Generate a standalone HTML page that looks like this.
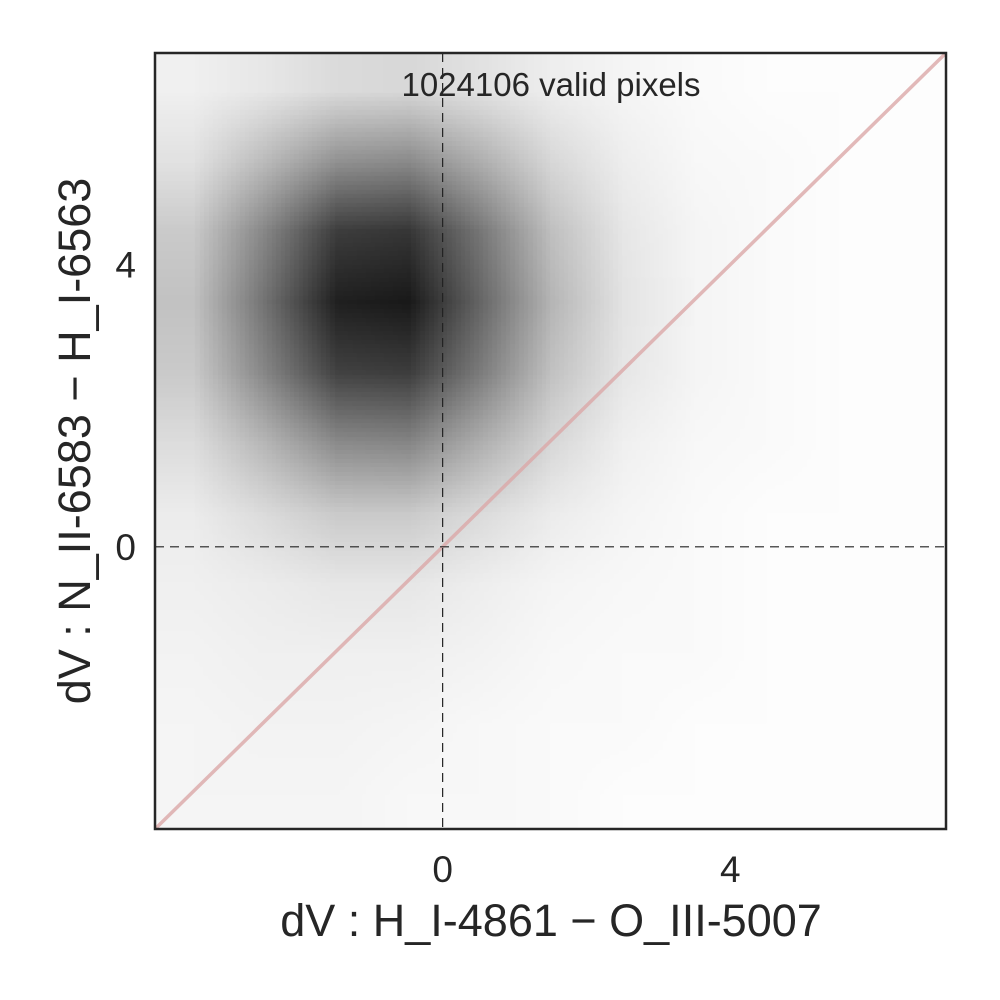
<!DOCTYPE html>
<html><head><meta charset="utf-8"><style>
html,body{margin:0;padding:0;background:#fff;width:1000px;height:1000px;overflow:hidden}
#wrap{position:relative;width:1000px;height:1000px}
canvas,svg{position:absolute;left:0;top:0}
text{font-family:"Liberation Sans",sans-serif;fill:#262626}
</style></head><body>
<div id="wrap">
<canvas id="hm" width="1000" height="1000"></canvas>
<svg id="ov" width="1000" height="1000"></svg>
</div>
<script>
// bin centers (data units)
const xCenters=[-3.5,-2.5,-1.5,-0.5,0.5,1.5,2.5,3.5,4.5,5.5,6.5];
const yCenters=[6.5,5.5,4.5,3.5,2.5,1.5,0.5,-0.5,-1.5,-2.5,-3.5];
// normalized density per row (top to bottom)
const row0=[.06,.1,.15,.16,.12,.07,.04,.02,.01,.01,.01];
const row1=[.12,.28,.45,.48,.33,.16,.07,.03,.02,.01,.01];
const row2=[.22,.5,.8,.83,.56,.26,.1,.04,.02,.01,.01];
const row3=[.25,.58,.92,.95,.63,.3,.11,.04,.02,.01,.01];
const row4=[.22,.5,.78,.8,.54,.25,.1,.04,.02,.01,.01];
const row5=[.14,.3,.48,.5,.33,.16,.06,.03,.02,.01,.01];
const row6=[.08,.15,.22,.22,.15,.08,.04,.02,.01,.01,.01];
const row7=[.06,.08,.1,.1,.07,.04,.03,.02,.01,.01,.01];
const row8=[.05,.06,.06,.06,.05,.03,.02,.02,.01,.01,.01];
const row9=[.04,.05,.05,.04,.03,.02,.02,.01,.01,.01,.01];
const row10=[.04,.04,.04,.03,.03,.02,.01,.01,.01,.01,.01];
const density=[row0,row1,row2,row3,row4,row5,row6,row7,row8,row9,row10];
const xTicks=[0,4];
const yTicks=[0,4];
const identityLine=[-4,7];
const countLabel="1024106 valid pixels";

const X0=155,X1=946,Y0=53,Y1=829,xmin=-4,xmax=7,ymin=-4,ymax=7;
const sx=v=>X0+(v-xmin)/(xmax-xmin)*(X1-X0);
const sy=v=>Y1-(v-ymin)/(ymax-ymin)*(Y1-Y0);

const nx=xCenters.length,ny=yCenters.length;
const small=document.createElement('canvas');small.width=nx;small.height=ny;
const sc=small.getContext('2d');const img=sc.createImageData(nx,ny);
for(let j=0;j<ny;j++)for(let i=0;i<nx;i++){const c=Math.round(255*(1-density[j][i]*0.95));const k=(j*nx+i)*4;img.data[k]=img.data[k+1]=img.data[k+2]=c;img.data[k+3]=255;}
sc.putImageData(img,0,0);
const ctx=document.getElementById('hm').getContext('2d');
ctx.imageSmoothingEnabled=true;
const bw=(sx(xCenters[1])-sx(xCenters[0]));const bh=(sy(yCenters[1])-sy(yCenters[0]));
ctx.save();ctx.beginPath();ctx.rect(X0,Y0,X1-X0,Y1-Y0);ctx.clip();
ctx.drawImage(small,sx(xCenters[0])-bw/2,sy(yCenters[0])-bh/2,bw*nx,bh*ny);
ctx.restore();

const svg=document.getElementById('ov');const NS='http://www.w3.org/2000/svg';
function mk(t,a,txt){const e=document.createElementNS(NS,t);for(const k in a)e.setAttribute(k,a[k]);if(txt!==undefined)e.textContent=txt;svg.appendChild(e);return e;}
let e;
e=mk('line',{x1:sx(identityLine[0]),y1:sy(identityLine[0]),x2:sx(identityLine[1]),y2:sy(identityLine[1]),stroke:'#dba8a8','stroke-width':3.5,'stroke-opacity':0.8});

e=mk('line',{x1:sx(0),y1:Y0,x2:sx(0),y2:Y1,stroke:'#222','stroke-width':1.2,'stroke-dasharray':'9,6'});

e=mk('line',{x1:X0,y1:sy(0),x2:X1,y2:sy(0),stroke:'#222','stroke-width':1.2,'stroke-dasharray':'9,6'});

e=mk('rect',{x:X0,y:Y0,width:X1-X0,height:Y1-Y0,fill:'none',stroke:'#262626','stroke-width':2.5});

xTicks.forEach(t=>{e=mk('text',{x:sx(t),y:882,'font-size':37,'text-anchor':'middle'},String(t));
});
yTicks.forEach(t=>{e=mk('text',{x:136,y:sy(t)+13,'font-size':37,'text-anchor':'end'},String(t));
});
e=mk('text',{x:551,y:936,'font-size':45,'text-anchor':'middle'},'dV : H_I-4861 \u2212 O_III-5007');

e=mk('text',{x:0,y:0,'font-size':45,'text-anchor':'middle',transform:'translate(90,441) rotate(-90)'},'dV : N_II-6583 \u2212 H_I-6563');

e=mk('text',{x:551,y:96,'font-size':33,'text-anchor':'middle'},countLabel);

</script>
</body></html>
